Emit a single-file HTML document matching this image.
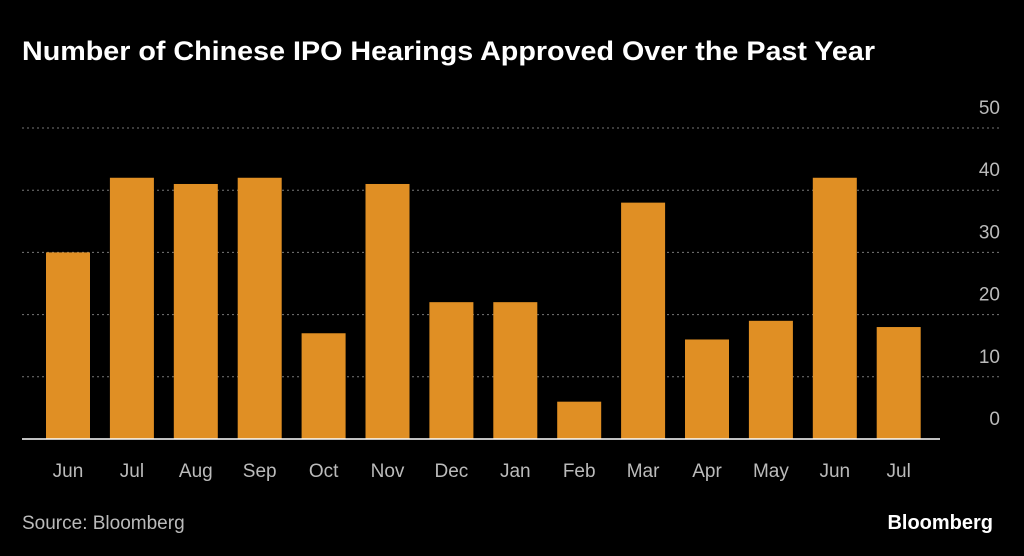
<!DOCTYPE html>
<html><head><meta charset="utf-8"><style>
html,body{margin:0;padding:0;background:#000;width:1024px;height:556px;overflow:hidden;font-family:"Liberation Sans",sans-serif;}
</style></head><body>
<svg width="1024" height="556" xmlns="http://www.w3.org/2000/svg">
<text x="22" y="60" fill="#fff" font-size="27" font-weight="bold" textLength="853" lengthAdjust="spacingAndGlyphs" font-family="Liberation Sans, sans-serif">Number of Chinese IPO Hearings Approved Over the Past Year</text>
<g id="grid"></g><g id="bars"></g><g id="xlabels"></g><g id="ylabels"></g>
<line x1="22" x2="940" y1="439" y2="439" stroke="#fff" stroke-width="1.5"/>
<text x="22" y="529" fill="#bbb" font-size="19">Source: Bloomberg</text>
<text x="993" y="529" fill="#fff" font-size="20" font-weight="bold" text-anchor="end">Bloomberg</text>
</svg>
<script>
const categories=["Jun","Jul","Aug","Sep","Oct","Nov","Dec","Jan","Feb","Mar","Apr","May","Jun","Jul"];
const values=[30,42,41,42,17,41,22,22,6,38,16,19,42,18];
const yTicks=[0,10,20,30,40,50];
const NS="http://www.w3.org/2000/svg";
function y(v){return 439-v*(311/50);}
function xc(i){return 68+i*63.9;}
const grid=document.getElementById('grid'),bars=document.getElementById('bars'),xl=document.getElementById('xlabels'),yl=document.getElementById('ylabels');
yTicks.forEach(t=>{
 if(t>0){const l=document.createElementNS(NS,'line');
 l.setAttribute('x1',22);l.setAttribute('x2',1002);l.setAttribute('y1',y(t));l.setAttribute('y2',y(t));
 l.setAttribute('stroke','#777');l.setAttribute('stroke-dasharray','2,3');
 
 
 grid.appendChild(l);}
 const tx=document.createElementNS(NS,'text');
 tx.setAttribute('x',1000);tx.setAttribute('y',y(t)-14);tx.setAttribute('text-anchor','end');
 tx.setAttribute('fill','#bbb');tx.setAttribute('font-size','19');tx.textContent=t;
 
 
 yl.appendChild(tx);
});
categories.forEach((c,i)=>{
 const r=document.createElementNS(NS,'rect');
 r.setAttribute('x',xc(i)-22);r.setAttribute('width',44);r.setAttribute('y',y(values[i]));r.setAttribute('height',439-y(values[i]));
 r.setAttribute('fill','#e08f24');
 
 
 bars.appendChild(r);
 const tx=document.createElementNS(NS,'text');
 tx.setAttribute('x',xc(i));tx.setAttribute('y',477);tx.setAttribute('text-anchor','middle');
 tx.setAttribute('fill','#bbb');tx.setAttribute('font-size','19');tx.textContent=c;
 
 
 xl.appendChild(tx);
});
</script>
</body></html>
